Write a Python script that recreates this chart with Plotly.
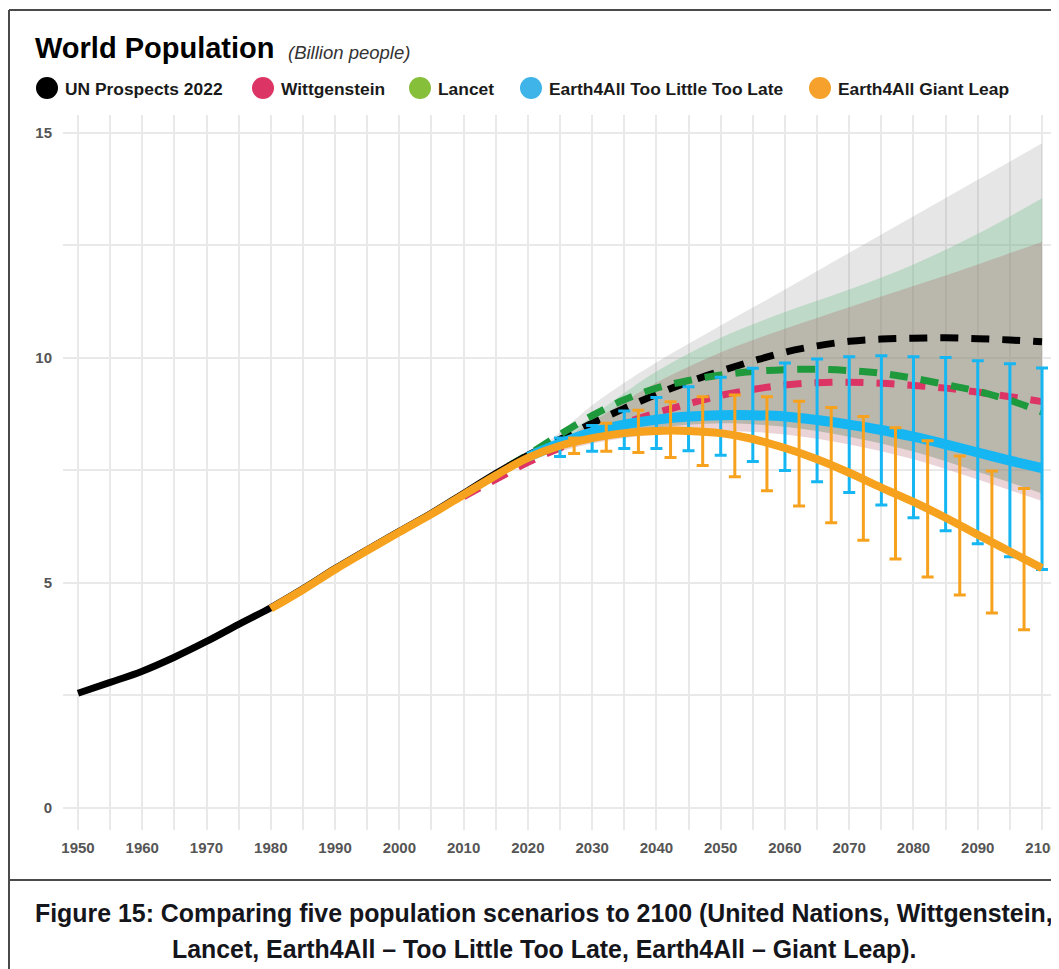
import plotly.graph_objects as go

# ---------------- data (billion people) ----------------
un_hist_years = [1950, 1955, 1960, 1965, 1970, 1975, 1980, 1985, 1990, 1995, 2000, 2005, 2010, 2015, 2020]
un_hist_vals = [2.55, 2.79, 3.04, 3.35, 3.70, 4.08, 4.45, 4.87, 5.32, 5.74, 6.15, 6.55, 6.99, 7.43, 7.84]

un_proj_years = [2020, 2025, 2030, 2035, 2040, 2045, 2050, 2055, 2060, 2065, 2070, 2075, 2080, 2085, 2090, 2095, 2100]
un_proj_vals = [7.84, 8.19, 8.55, 8.88, 9.19, 9.47, 9.71, 9.93, 10.13, 10.27, 10.37, 10.42, 10.44, 10.45, 10.43, 10.40, 10.36]

witt_years = [2010, 2015, 2020, 2025, 2030, 2035, 2040, 2045, 2050, 2055, 2060, 2065, 2070, 2075, 2080, 2085, 2090, 2095, 2100]
witt_vals = [6.92, 7.30, 7.68, 8.00, 8.27, 8.55, 8.78, 8.98, 9.17, 9.30, 9.40, 9.45, 9.46, 9.44, 9.39, 9.33, 9.24, 9.14, 9.03]

lancet_years = [2017, 2020, 2025, 2030, 2035, 2040, 2045, 2050, 2055, 2060, 2065, 2070, 2075, 2080, 2085, 2090, 2095, 2100]
lancet_vals = [7.60, 7.85, 8.30, 8.72, 9.07, 9.33, 9.50, 9.62, 9.70, 9.74, 9.75, 9.72, 9.66, 9.55, 9.41, 9.26, 9.06, 8.80]

tltl_years = [2020, 2025, 2030, 2035, 2040, 2045, 2050, 2055, 2060, 2065, 2070, 2075, 2080, 2085, 2090, 2095, 2100]
tltl_vals = [7.80, 8.10, 8.35, 8.52, 8.63, 8.70, 8.73, 8.73, 8.70, 8.62, 8.52, 8.40, 8.25, 8.08, 7.90, 7.72, 7.55]

tltl_bar_years = [2025, 2030, 2035, 2040, 2045, 2050, 2055, 2060, 2065, 2070, 2075, 2080, 2085, 2090, 2095, 2100]
tltl_bar_low = [7.81, 7.93, 7.99, 7.99, 7.94, 7.84, 7.70, 7.50, 7.25, 7.01, 6.73, 6.45, 6.16, 5.87, 5.58, 5.30]
tltl_bar_high = [8.22, 8.50, 8.82, 9.12, 9.36, 9.57, 9.77, 9.89, 9.98, 10.03, 10.05, 10.03, 10.01, 9.94, 9.87, 9.78]

gl_years = [1980, 1985, 1990, 1995, 2000, 2005, 2010, 2015, 2020, 2025, 2030, 2035, 2040, 2045, 2050, 2055,
            2060, 2065, 2070, 2075, 2080, 2085, 2090, 2095, 2100]
gl_vals = [4.43, 4.85, 5.30, 5.72, 6.13, 6.53, 6.96, 7.39, 7.78, 8.05, 8.22, 8.33, 8.38, 8.38, 8.33, 8.20,
           8.00, 7.75, 7.45, 7.12, 6.80, 6.45, 6.07, 5.70, 5.33]

gl_bar_years = [2027.2, 2032.2, 2037.2, 2042.2, 2047.2, 2052.2, 2057.2, 2062.2, 2067.2, 2072.2, 2077.2, 2082.2,
                2087.2, 2092.2, 2097.2]
gl_bar_low = [7.88, 7.93, 7.90, 7.79, 7.61, 7.36, 7.05, 6.71, 6.34, 5.95, 5.53, 5.13, 4.73, 4.33, 3.96]
gl_bar_high = [8.22, 8.55, 8.84, 9.03, 9.14, 9.18, 9.14, 9.04, 8.90, 8.70, 8.45, 8.16, 7.82, 7.49, 7.10]

band_years = [2020, 2025, 2030, 2035, 2040, 2050, 2060, 2070, 2080, 2090, 2100]
un_band_high = [7.80, 8.35, 8.95, 9.45, 9.90, 10.72, 11.52, 12.34, 13.15, 13.96, 14.77]
lancet_band_high = [7.80, 8.22, 8.70, 9.22, 9.70, 10.45, 11.02, 11.52, 12.08, 12.76, 13.55]
witt_band_high = [7.80, 8.15, 8.58, 9.03, 9.45, 10.12, 10.65, 11.13, 11.60, 12.08, 12.58]
band_low = [7.80, 8.00, 8.20, 8.35, 8.45, 8.55, 8.47, 8.25, 7.92, 7.47, 6.99]
witt_band_low = [7.75, 7.93, 8.10, 8.22, 8.30, 8.38, 8.30, 8.08, 7.75, 7.30, 6.82]

x_ticks = [1950, 1960, 1970, 1980, 1990, 2000, 2010, 2020, 2030, 2040, 2050, 2060, 2070, 2080, 2090, 2100]
y_ticks = [0, 5, 10, 15]

legend_names = ["UN Prospects 2022", "Wittgenstein", "Lancet", "Earth4All Too Little Too Late", "Earth4All Giant Leap"]
legend_colors = ["#000000", "#dc3565", "#86bf3a", "#3fb4e8", "#f5a12c"]

title_text = "World Population"
subtitle_text = "(Billion people)"
caption_line1 = "Figure 15: Comparing five population scenarios to 2100 (United Nations, Wittgenstein,"
caption_line2 = "Lancet, Earth4All \u2013 Too Little Too Late, Earth4All \u2013 Giant Leap)."

# ---------------- layout geometry ----------------
# The page body has an 8px margin, so the figure is shifted by OFF and every
# target position below is given in window pixels.
OFF = 8
W, H = 1059 - OFF, 969 - OFF
PL, PR, PT, PB = 63, 1059, 115, 830          # plot area in window pixels
FONT = "Liberation Sans, Arial, sans-serif"


def fx(px):
    return (px - PL) / (PR - PL)


def fy(py):
    return (PB - py) / (PB - PT)


fig = go.Figure()


def band(years, low, high, color):
    fig.add_trace(go.Scatter(x=years, y=low, mode="lines", line=dict(width=0, shape="spline"),
                             hoverinfo="skip", showlegend=False))
    fig.add_trace(go.Scatter(x=years, y=high, mode="lines", line=dict(width=0, shape="spline"),
                             fill="tonexty", fillcolor=color, hoverinfo="skip", showlegend=False))


band(band_years, band_low, un_band_high, "rgba(128,128,128,0.20)")
band(band_years, band_low, lancet_band_high, "rgba(100,190,130,0.30)")
band(band_years, witt_band_low, witt_band_high, "rgba(176,83,97,0.25)")

DASH = "18px,13px"
fig.add_trace(go.Scatter(x=un_proj_years, y=un_proj_vals, mode="lines", name=legend_names[0],
                         line=dict(color="#000000", width=7, dash=DASH, shape="spline"), showlegend=False))
fig.add_trace(go.Scatter(x=witt_years, y=witt_vals, mode="lines", name=legend_names[1],
                         line=dict(color="#dc3565", width=7, dash=DASH, shape="spline"), showlegend=False))
fig.add_trace(go.Scatter(x=lancet_years, y=lancet_vals, mode="lines", name=legend_names[2],
                         line=dict(color="#1e9a3c", width=7, dash=DASH, shape="spline"), showlegend=False))

# Too Little Too Late: error bars then line
fig.add_trace(go.Scatter(
    x=tltl_bar_years, y=tltl_bar_low, mode="markers",
    marker=dict(size=1, color="rgba(0,0,0,0)"),
    error_y=dict(type="data", symmetric=False,
                 array=[h - l for h, l in zip(tltl_bar_high, tltl_bar_low)],
                 arrayminus=[0] * len(tltl_bar_low),
                 color="#16b6f2", thickness=3, width=6),
    hoverinfo="skip", showlegend=False))
fig.add_trace(go.Scatter(x=tltl_years, y=tltl_vals, mode="lines", name=legend_names[3],
                         line=dict(color="#16b6f2", width=10, shape="spline"), showlegend=False))

fig.add_trace(go.Scatter(x=un_hist_years, y=un_hist_vals, mode="lines", name=legend_names[0] + " (historic)",
                         line=dict(color="#000000", width=7, shape="spline"), showlegend=False))

# Giant Leap: error bars then line
fig.add_trace(go.Scatter(
    x=gl_bar_years, y=gl_bar_low, mode="markers",
    marker=dict(size=1, color="rgba(0,0,0,0)"),
    error_y=dict(type="data", symmetric=False,
                 array=[h - l for h, l in zip(gl_bar_high, gl_bar_low)],
                 arrayminus=[0] * len(gl_bar_low),
                 color="#f7a21e", thickness=3, width=6),
    hoverinfo="skip", showlegend=False))
fig.add_trace(go.Scatter(x=gl_years, y=gl_vals, mode="lines", name=legend_names[4],
                         line=dict(color="#f7a21e", width=8, shape="spline"), showlegend=False))

# ---------------- annotations & shapes ----------------
annotations = []
shapes = []

annotations.append(dict(xref="paper", yref="paper", x=fx(33), y=fy(48), xanchor="left", yanchor="middle",
                        text="<b>" + title_text + "</b>", showarrow=False,
                        font=dict(family=FONT, size=29, color="#000000")))
annotations.append(dict(xref="paper", yref="paper", x=fx(286), y=fy(52), xanchor="left", yanchor="middle",
                        text="<i>" + subtitle_text + "</i>", showarrow=False,
                        font=dict(family=FONT, size=18.5, color="#333333")))

legend_circle_x = [47, 263, 420, 531, 820]
LEG_Y = 88
for name, color, cx in zip(legend_names, legend_colors, legend_circle_x):
    shapes.append(dict(type="circle", xref="paper", yref="paper",
                       x0=fx(cx - 11), x1=fx(cx + 11), y0=fy(LEG_Y - 11), y1=fy(LEG_Y + 11),
                       fillcolor=color, line=dict(width=0)))
    annotations.append(dict(xref="paper", yref="paper", x=fx(cx + 16), y=fy(LEG_Y + 1), xanchor="left",
                            yanchor="middle", text="<b>" + name + "</b>", showarrow=False,
                            font=dict(family=FONT, size=17.4, color="#1a1a1a")))

annotations.append(dict(xref="paper", yref="paper", x=fx(544), y=fy(913), xanchor="center", yanchor="middle",
                        text="<b>" + caption_line1 + "</b>", showarrow=False,
                        font=dict(family=FONT, size=24.9, color="#15151c")))
annotations.append(dict(xref="paper", yref="paper", x=fx(544), y=fy(949), xanchor="center", yanchor="middle",
                        text="<b>" + caption_line2 + "</b>", showarrow=False,
                        font=dict(family=FONT, size=24.9, color="#15151c")))

FRAME = dict(color="#4a4a4a", width=2)
shapes.append(dict(type="line", xref="paper", yref="paper", x0=fx(9), x1=fx(9), y0=fy(10), y1=fy(975), line=FRAME))
shapes.append(dict(type="line", xref="paper", yref="paper", x0=fx(9), x1=fx(1070), y0=fy(10), y1=fy(10), line=FRAME))
shapes.append(dict(type="line", xref="paper", yref="paper", x0=fx(9), x1=fx(1070), y0=fy(880), y1=fy(880), line=FRAME))

GRID = "#e9e9e9"
fig.update_layout(
    width=W, height=H,
    margin=dict(l=PL - OFF, r=W - (PR - OFF), t=PT - OFF, b=H - (PB - OFF), pad=0),
    paper_bgcolor="white", plot_bgcolor="white",
    showlegend=False,
    annotations=annotations, shapes=shapes,
    xaxis=dict(range=[1947.67, 2102.64], tickvals=x_ticks, showgrid=True, gridcolor=GRID, gridwidth=1.5,
               minor=dict(dtick=5, tick0=1950, showgrid=True, gridcolor=GRID, gridwidth=1.5),
               zeroline=False, showline=False, ticks="", ticklabelstandoff=7,
               tickfont=dict(family=FONT, size=15, color="#555555", weight="bold")),
    yaxis=dict(range=[-0.49, 15.4], tickvals=y_ticks, showgrid=True, gridcolor=GRID, gridwidth=1.5,
               minor=dict(dtick=2.5, tick0=0, showgrid=True, gridcolor=GRID, gridwidth=1.5),
               zeroline=False, showline=False, ticks="", ticklabelstandoff=10,
               tickfont=dict(family=FONT, size=15, color="#555555", weight="bold")),
)

fig.write_html("out.html")
